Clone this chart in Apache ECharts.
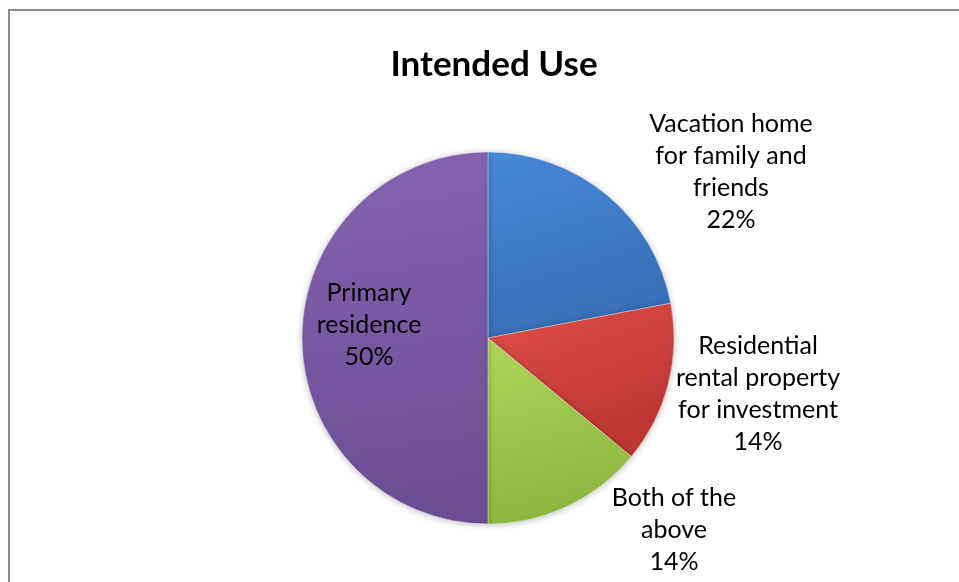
<!DOCTYPE html>
<html>
<head>
<meta charset="utf-8">
<script src="https://cdn.jsdelivr.net/npm/echarts@6/dist/echarts.min.js"></script>
<style>
html,body{margin:0;padding:0;background:#fff;}
#chart{width:959px;height:582px;}
</style>
</head>
<body>
<div id="chart"></div>
<script>
// Data
var titleText = 'Intended Use';
var categories = [
  'Vacation home\nfor family and\nfriends',
  'Residential\nrental property\nfor investment',
  'Both of the\nabove',
  'Primary\nresidence'
];
var values = [22, 14, 14, 50];

// Styling (not data)
var baseColors = [
  ['#4689D8', '#3870B8'],
  ['#E3514A', '#BC3632'],
  ['#AED65D', '#8CB63E'],
  ['#8664B2', '#6A4D94']
];
var labelPos = [
  [731, 172],
  [758, 394],
  [674, 530],
  [369, 325]
];

var chart = echarts.init(document.getElementById('chart'), null, {renderer: 'canvas'});
var fontFamily = 'Lato, "Open Sans", sans-serif';

var data = categories.map(function (c, i) {
  return {
    name: c,
    value: values[i],
    itemStyle: {
      color: {
        type: 'linear', x: 0, y: 0, x2: 0.3, y2: 1,
        colorStops: [
          {offset: 0, color: baseColors[i][0]},
          {offset: 1, color: baseColors[i][1]}
        ]
      }
    }
  };
});

chart.setOption({
  backgroundColor: '#ffffff',
  animation: false,
  title: {
    text: titleText,
    left: 489,
    top: 42,
    textAlign: 'center',
    textStyle: {
      fontFamily: fontFamily,
      fontWeight: 'bold',
      fontSize: 35,
      color: '#000'
    }
  },
  graphic: [
    {type: 'line', shape: {x1: 8, y1: 10, x2: 959, y2: 10}, style: {stroke: '#8c8c8c', lineWidth: 2}},
    {type: 'line', shape: {x1: 9, y1: 9, x2: 9, y2: 582}, style: {stroke: '#8c8c8c', lineWidth: 2}}
  ],
  series: [{
    type: 'pie',
    center: [488, 338],
    radius: 186,
    startAngle: 90,
    clockwise: true,
    data: data,
    itemStyle: {
      borderColor: 'rgba(255,255,255,0.35)',
      borderWidth: 1,
      shadowBlur: 6,
      shadowColor: 'rgba(0,0,0,0.25)',
      shadowOffsetY: 1
    },
    label: {
      show: true,
      position: 'outside',
      formatter: function (p) { return p.name + '\n' + p.value + '%'; },
      fontFamily: fontFamily,
      fontSize: 25,
      lineHeight: 32,
      color: '#000',
      align: 'center'
    },
    labelLine: {show: false},
    labelLayout: function (p) {
      var pos = labelPos[p.dataIndex];
      return {x: pos[0], y: pos[1], align: 'center', verticalAlign: 'middle'};
    },
    emphasis: {disabled: true}
  }]
});
</script>
</body>
</html>
